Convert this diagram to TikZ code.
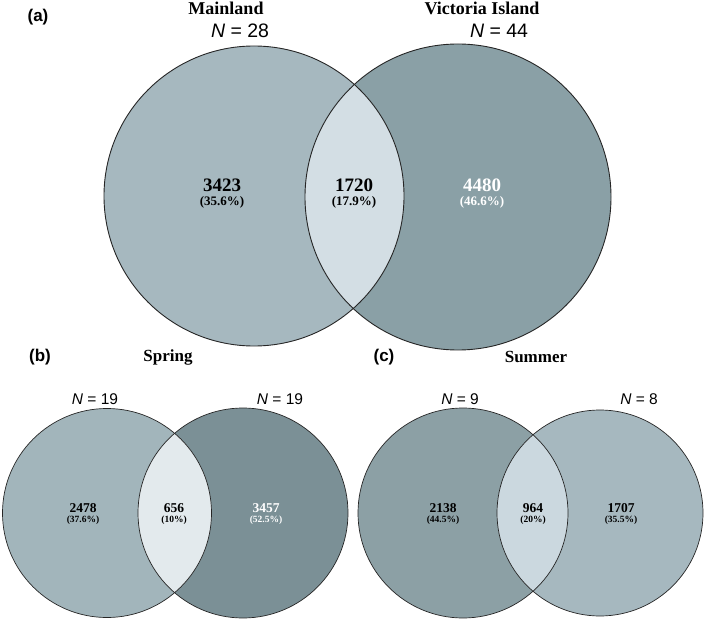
\documentclass[tikz,border=0pt]{standalone}
\usepackage{fontspec}
\setmainfont{Liberation Serif}
\setsansfont{Liberation Sans}
\definecolor{aL}{HTML}{A6B8BF}
\definecolor{aR}{HTML}{8AA0A6}
\definecolor{aM}{HTML}{D3DEE4}
\definecolor{bL}{HTML}{A2B5BB}
\definecolor{bR}{HTML}{7B9096}
\definecolor{bM}{HTML}{E3EAED}
\definecolor{cL}{HTML}{8CA0A5}
\definecolor{cR}{HTML}{A6B8BF}
\definecolor{cM}{HTML}{CBD8DF}
\tikzset{
  panel/.style={font=\sffamily\bfseries\fontsize{17}{19}\selectfont},
  title/.style={font=\rmfamily\bfseries\fontsize{18}{20}\selectfont},
  titlesm/.style={font=\rmfamily\bfseries\fontsize{17}{19}\selectfont},
  nlab/.style={font=\sffamily\fontsize{19.5}{21}\selectfont},
  nlabsm/.style={font=\sffamily\fontsize{15.5}{17}\selectfont},
  big/.style={font=\rmfamily\bfseries\fontsize{19}{20}\selectfont, align=center, inner sep=0pt},
  bigpct/.style={font=\rmfamily\bfseries\fontsize{13}{14}\selectfont, inner sep=0pt},
  small/.style={font=\rmfamily\bfseries\fontsize{13.5}{14}\selectfont, inner sep=0pt},
  smallpct/.style={font=\rmfamily\bfseries\fontsize{9.5}{10}\selectfont, inner sep=0pt},
  ring/.style={draw=black!85, line width=0.9pt},
}
\begin{document}
\begin{tikzpicture}[x=1pt,y=-1pt]
\useasboundingbox (0,0) rectangle (709,620);
% ---------- panel (a)
\coordinate (A1) at (254,196);
\coordinate (A2) at (458,197);
\fill[aL] (A1) circle[radius=150];
\fill[aR] (A2) circle[radius=153];
\begin{scope}
  \clip (A1) circle[radius=150];
  \fill[aM] (A2) circle[radius=153];
\end{scope}
\draw[ring] (A1) circle[radius=150];
\draw[ring] (A2) circle[radius=153];
\node[panel] (pa) at (38,17) {(a)};
\node[title] (ta) at (226,8) {Mainland};
\node[title] (tb) at (482,8) {Victoria Island};
\node[nlab] (na) at (240,31) {\textit{N} = 28};
\node[nlab] (nb) at (499,31) {\textit{N} = 44};
\node[big] (a1) at (222,185) {3423};
\node[bigpct] (a1p) at (222,202) {(35.6\%)};
\node[big] (a2) at (354,185) {1720};
\node[bigpct] (a2p) at (354,202) {(17.9\%)};
\node[big, text=white] (a3) at (482,185) {4480};
\node[bigpct, text=white] (a3p) at (482,202) {(46.6\%)};
% ---------- panel (b)
\coordinate (B1) at (107,513);
\coordinate (B2) at (243,513);
\fill[bL] (B1) circle[radius=104.5];
\fill[bR] (B2) circle[radius=105];
\begin{scope}
  \clip (B1) circle[radius=104.5];
  \fill[bM] (B2) circle[radius=105];
\end{scope}
\draw[ring, line width=0.7pt] (B1) circle[radius=104.5];
\draw[ring, line width=0.7pt] (B2) circle[radius=105];
\node[panel] (pb) at (40,357) {(b)};
\node[titlesm] (tsp) at (168,357) {Spring};
\node[nlabsm] (nb1) at (95,399) {\textit{N} = 19};
\node[nlabsm] (nb2) at (280,399) {\textit{N} = 19};
\node[small] (b1) at (83,508) {2478};
\node[smallpct] (b1p) at (83,520) {(37.6\%)};
\node[small] (b2) at (174,508) {656};
\node[smallpct] (b2p) at (174,520) {(10\%)};
\node[small, text=white] (b3) at (266,508) {3457};
\node[smallpct, text=white] (b3p) at (266,520) {(52.5\%)};
% ---------- panel (c)
\coordinate (C1) at (463,513);
\coordinate (C2) at (600,513);
\fill[cL] (C1) circle[radius=105];
\fill[cR] (C2) circle[radius=103];
\begin{scope}
  \clip (C1) circle[radius=105];
  \fill[cM] (C2) circle[radius=103];
\end{scope}
\draw[ring, line width=0.7pt] (C1) circle[radius=105];
\draw[ring, line width=0.7pt] (C2) circle[radius=103];
\node[panel] (pc) at (384,357) {(c)};
\node[titlesm] (tsu) at (536,357) {Summer};
\node[nlabsm] (nc1) at (460,399) {\textit{N} = 9};
\node[nlabsm] (nc2) at (639,399) {\textit{N} = 8};
\node[small] (c1) at (443,508) {2138};
\node[smallpct] (c1p) at (443,520) {(44.5\%)};
\node[small] (c2) at (533,508) {964};
\node[smallpct] (c2p) at (533,520) {(20\%)};
\node[small] (c3) at (621,508) {1707};
\node[smallpct] (c3p) at (621,520) {(35.5\%)};
\end{tikzpicture}
\end{document}
